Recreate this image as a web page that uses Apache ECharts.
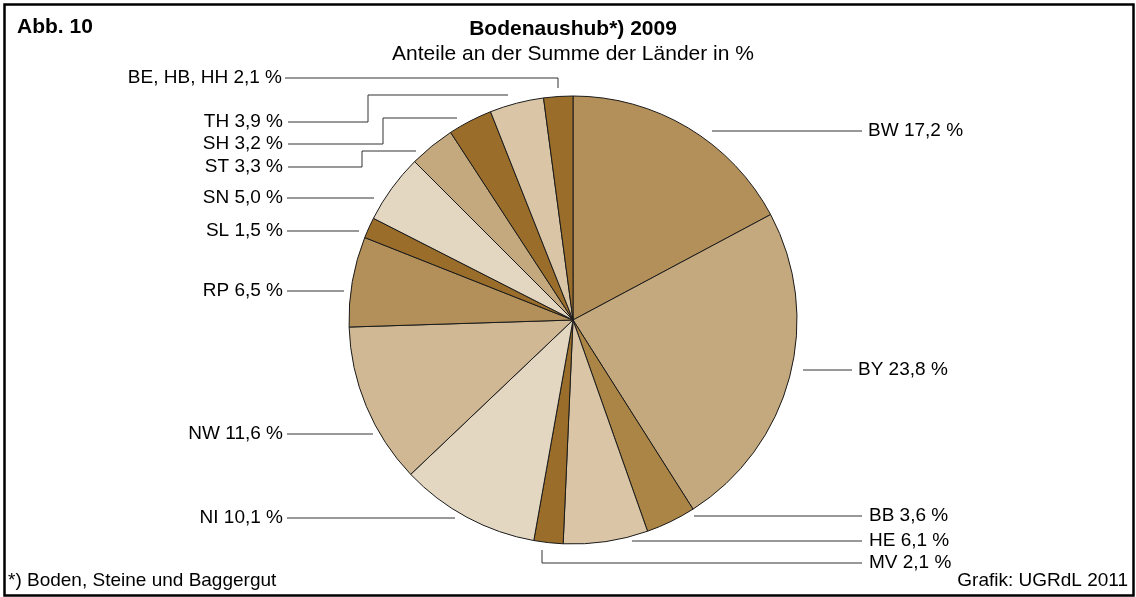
<!DOCTYPE html>
<html>
<head>
<meta charset="utf-8">
<script src="https://cdn.jsdelivr.net/npm/echarts@6/dist/echarts.min.js"></script>
<style>
html,body{margin:0;padding:0;background:#fff;}
#chart{width:1136px;height:597px;}
</style>
</head>
<body>
<div id="chart"></div>
<script>
// ---- data ----
const categories = ['BW','BY','BB','HE','MV','NI','NW','RP','SL','SN','ST','SH','TH','BE, HB, HH'];
const shares = [17.2, 23.8, 3.6, 6.1, 2.1, 10.1, 11.6, 6.5, 1.5, 5.0, 3.3, 3.2, 3.9, 2.1];
const titleText = 'Bodenaushub*) 2009';
const subtitleText = 'Anteile an der Summe der Länder in %';
const figText = 'Abb. 10';
const footnoteText = '*) Boden, Steine und Baggergut';
const sourceText = 'Grafik: UGRdL 2011';

// ---- styles / layout ----
const colors = ['#b39059','#c5a97e','#ab8545','#dac6a6','#9a6e2a','#e3d7c1','#cfb893',
                '#b39059','#9a6e2a','#e3d7c1','#c5a97e','#9a6e2a','#dac6a6','#9a6e2a'];
// label anchor [x, y, align] and leader line points (layout only)
const labelAnchors = [
  [868,131,'left'],[858,370,'left'],[869,516,'left'],[869,541,'left'],[869,563,'left'],
  [283,518,'right'],[283,434,'right'],[283,291,'right'],[283,231,'right'],[283,198,'right'],
  [283,167,'right'],[283,144,'right'],[283,122,'right'],[282,78,'right']
];
const leaderLines = [
  [[712,131],[862,131]],
  [[803,370],[852,370]],
  [[694,516],[862,516]],
  [[632,541],[862,541]],
  [[542,550],[542,563],[862,563]],
  [[287,518],[455,518]],
  [[287,434],[373,434]],
  [[287,291],[344,291]],
  [[287,231],[359,231]],
  [[287,198],[374,198]],
  [[288,167],[362,167],[362,151],[416,151]],
  [[288,144],[383,144],[383,118],[457,118]],
  [[288,122],[368,122],[368,95],[508,95]],
  [[285,78],[558,78],[558,88]]
];

const FONT = 'Liberation Sans, Arial, sans-serif';
const chart = echarts.init(document.getElementById('chart'), null, {renderer:'canvas'});

const pieData = categories.map((c,i)=>({
  name: c, value: shares[i],
  itemStyle: {color: colors[i]}
}));

chart.setOption({
  animation: false,
  graphic: [
    {type:'rect', shape:{x:4.5,y:4.5,width:1129,height:591}, style:{fill:null, stroke:'#000', lineWidth:2.5}, z:100},
    {type:'text', left:17, top:17, style:{text:figText, font:'bold 21px '+FONT, fill:'#000'}},
    {type:'text', x:573, y:29, style:{text:titleText, font:'bold 21px '+FONT, fill:'#000', align:'center', verticalAlign:'middle'}},
    {type:'text', x:573, y:54, style:{text:subtitleText, font:'21px '+FONT, fill:'#000', align:'center', verticalAlign:'middle'}},
    {type:'text', x:8, y:581, style:{text:footnoteText, font:'19px '+FONT, fill:'#000', align:'left', verticalAlign:'middle'}},
    {type:'text', x:1128, y:581, style:{text:sourceText, font:'19px '+FONT, fill:'#000', align:'right', verticalAlign:'middle'}}
  ],
  series: [{
    type: 'pie',
    center: [573, 320],
    radius: 224,
    startAngle: 90,
    clockwise: true,
    avoidLabelOverlap: false,
    silent: true,
    data: pieData,
    itemStyle: {borderColor:'#1a1a1a', borderWidth:1},
    label: {
      show: true,
      position: 'outside',
      color: '#000',
      fontFamily: FONT,
      fontSize: 19,
      formatter: p => p.name + ' ' + p.value.toFixed(1).replace('.', ',') + ' %'
    },
    labelLine: {show: true, lineStyle: {color:'#333', width:1}},
    labelLayout: function(params){
      const i = params.dataIndex;
      const a = labelAnchors[i];
      return {
        x: a[0], y: a[1], align: a[2], verticalAlign: 'middle',
        labelLinePoints: leaderLines[i]
      };
    }
  }]
});
</script>
</body>
</html>
